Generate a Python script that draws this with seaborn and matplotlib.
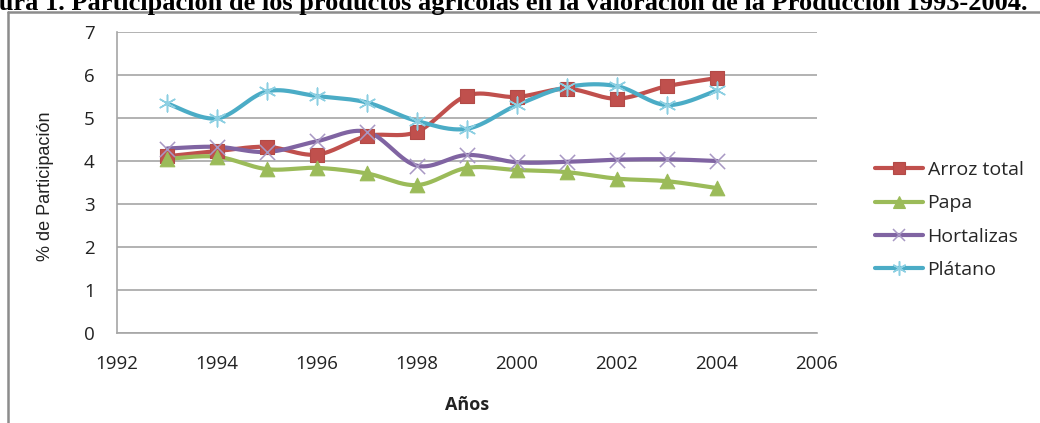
import numpy as np
import pandas as pd
import matplotlib
matplotlib.use("Agg")
import matplotlib.pyplot as plt
from matplotlib.lines import Line2D
import seaborn as sns

# Data: share (%) of each crop in the value of agricultural production
years = [1993, 1994, 1995, 1996, 1997, 1998, 1999, 2000, 2001, 2002, 2003, 2004]
arroz = [4.11, 4.23, 4.33, 4.15, 4.58, 4.68, 5.52, 5.49, 5.68, 5.45, 5.74, 5.93]
papa = [4.05, 4.10, 3.81, 3.84, 3.71, 3.44, 3.84, 3.79, 3.74, 3.59, 3.53, 3.37]
hortalizas = [4.29, 4.33, 4.21, 4.46, 4.68, 3.89, 4.14, 3.97, 3.98, 4.03, 4.04, 4.00]
platano = [5.34, 4.99, 5.62, 5.51, 5.36, 4.93, 4.75, 5.30, 5.72, 5.74, 5.30, 5.64]

series_names = ["Arroz total", "Papa", "Hortalizas", "Plátano"]
series_values = [arroz, papa, hortalizas, platano]

x_ticks = [1992, 1994, 1996, 1998, 2000, 2002, 2004, 2006]
y_ticks = [0, 1, 2, 3, 4, 5, 6, 7]

title_prefix = "Fig"
title = ("Figura 1. Participación de los productos agrícolas en la valoración "
         "de la Producción 1993-2004.")

line_colors = ["#C0504D", "#9BBB59", "#8064A2", "#4BACC6"]
marker_face = ["#C0504D", "#9BBB59", "none", "none"]
marker_edge = ["#B24A47", "#9BBB59", "#A898C4", "#8CCFE2"]
markers = ["s", "^", "x", (6, 2, 0)]
marker_sizes = [10.5, 10.5, 11, 12]
marker_ew = [0.8, 0.8, 1.1, 1.1]


def smooth(xs, ys, n=30):
    """Cardinal (Catmull-Rom) curve through the points, like a smoothed line chart."""
    xs = np.asarray(xs, float)
    ys = np.asarray(ys, float)
    px = np.concatenate([[xs[0]], xs, [xs[-1]]])
    py = np.concatenate([[ys[0]], ys, [ys[-1]]])
    out_x, out_y = [], []
    t = np.linspace(0, 1, n, endpoint=False)
    for i in range(1, len(px) - 2):
        for arr, out in ((px, out_x), (py, out_y)):
            p0, p1, p2, p3 = arr[i - 1], arr[i], arr[i + 1], arr[i + 2]
            c1 = p1 + (p2 - p0) / 6.0
            c2 = p2 - (p3 - p1) / 6.0
            b = ((1 - t) ** 3 * p1 + 3 * (1 - t) ** 2 * t * c1
                 + 3 * (1 - t) * t ** 2 * c2 + t ** 3 * p2)
            out.extend(b)
    out_x.append(xs[-1])
    out_y.append(ys[-1])
    return np.array(out_x), np.array(out_y)


rows = []
for name, vals in zip(series_names, series_values):
    sx, sy = smooth(years, vals)
    for a, b in zip(sx, sy):
        rows.append({"serie": name, "anio": a, "valor": b})
curves = pd.DataFrame(rows)

points = pd.DataFrame({
    "serie": np.repeat(series_names, len(years)),
    "anio": years * len(series_names),
    "valor": np.concatenate(series_values),
})

sns.set_style("white")
plt.rcParams["font.family"] = ["Open Sans", "DejaVu Sans"]

W, H = 1040, 423
fig = plt.figure(figsize=(W / 100, H / 100), dpi=100)
ax = fig.add_axes([117 / W, 1 - 333 / H, 700 / W, 301 / H])

for name, col in zip(series_names, line_colors):
    d = curves[curves["serie"] == name]
    sns.lineplot(data=d, x="anio", y="valor", sort=False, estimator=None,
                 color=col, linewidth=3.0, ax=ax, legend=False, zorder=3)

for name, mk, ms, fc, ec, ew in zip(series_names, markers, marker_sizes,
                                    marker_face, marker_edge, marker_ew):
    d = points[points["serie"] == name]
    sns.scatterplot(data=d, x="anio", y="valor", marker=mk, s=ms ** 2,
                    facecolor=fc if fc != "none" else ec, edgecolor=ec,
                    linewidth=ew, ax=ax, zorder=4, legend=False)

ax.set_xlim(1992, 2006)
ax.set_ylim(0, 7)
ax.set_xticks(x_ticks)
ax.set_yticks(y_ticks)
ax.tick_params(axis="both", length=0, labelsize=13.5, colors="#222222")
ax.tick_params(axis="y", pad=16)
ax.tick_params(axis="x", pad=16)
ax.yaxis.grid(True, color="#A6A6A6", linewidth=1.2)
ax.set_axisbelow(True)
for side in ("top", "right"):
    ax.spines[side].set_visible(False)
for side in ("left", "bottom"):
    ax.spines[side].set_color("#A6A6A6")
    ax.spines[side].set_linewidth(1.2)

ax.set_xlabel("Años", fontsize=13, fontweight="bold", color="#222222")
ax.xaxis.set_label_coords(0.5, (333 - 396) / 301)
ax.set_ylabel("% de Participación", fontsize=13, color="#222222",
              family=["Liberation Sans", "DejaVu Sans"])
ax.yaxis.set_label_coords((54 - 117) / 700, (333 - 186) / 301)

handles = [
    Line2D([], [], color=c, linewidth=3.0, marker=mk, markersize=ms * 0.85,
           markerfacecolor=(fc if fc != "none" else "none"),
           markeredgecolor=ec, markeredgewidth=ew)
    for c, mk, ms, fc, ec, ew in zip(line_colors, markers, marker_sizes,
                                     marker_face, marker_edge, marker_ew)
]
fig.legend(handles, series_names, loc="center left",
           bbox_to_anchor=(875 / W, 1 - 220 / H), frameon=False,
           fontsize=14, handlelength=2.45, handletextpad=0.25,
           labelspacing=0.78, borderaxespad=0, borderpad=0)

# outer frame of the figure box
fig.add_artist(Line2D([8 / W, 8 / W], [0, 1 - 12 / H], transform=fig.transFigure,
                      color="#8C8C8C", linewidth=1.8))
fig.add_artist(Line2D([8 / W, 1], [1 - 12 / H, 1 - 12 / H],
                      transform=fig.transFigure, color="#8C8C8C", linewidth=1.8))

# caption, right-aligned so that its opening word runs past the left edge;
# size chosen so the remainder fills the width up to x = 1028 px
serif = ["Liberation Serif", "DejaVu Serif"]
renderer = fig.canvas.get_renderer()
probe_full = fig.text(0, 0, title, fontsize=10, fontweight="bold", family=serif)
probe_pre = fig.text(0, 0, title_prefix, fontsize=10, fontweight="bold", family=serif)
w_full = probe_full.get_window_extent(renderer).width
w_pre = probe_pre.get_window_extent(renderer).width
probe_full.remove()
probe_pre.remove()
title_size = 10 * 1028 / (w_full - w_pre)
fig.text(1028 / W, 1 - 10 / H, title, ha="right", va="baseline",
         fontsize=title_size, fontweight="bold", family=serif, color="black")

fig.savefig("out.png", dpi=100, facecolor="white")
